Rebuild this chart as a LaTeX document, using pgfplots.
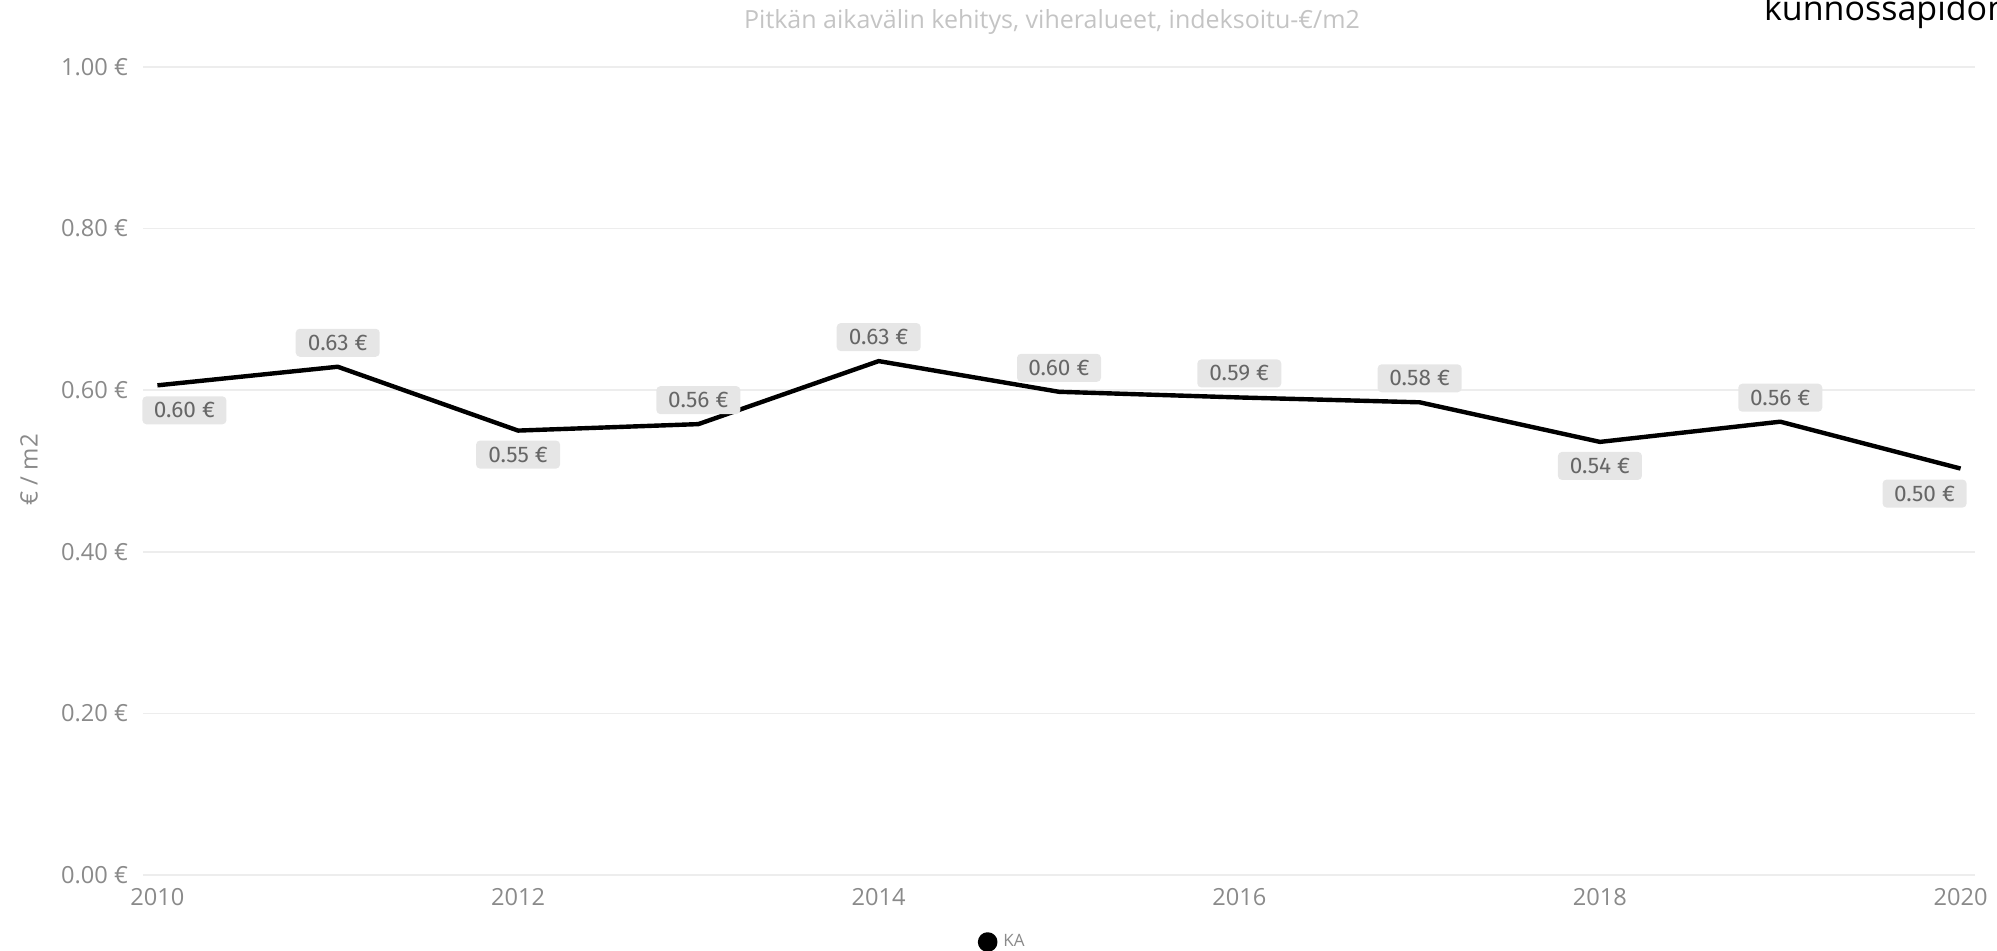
\documentclass[border=0pt]{standalone}
\usepackage{pgfplots}
\usepackage{pgfplotstable}
\pgfplotsset{compat=1.18}
\usepackage{fontspec}
\setmainfont{Open Sans}
\newfontfamily\labfont{Fira Sans}

\definecolor{tickgray}{HTML}{8A8A8A}
\definecolor{titlegray}{HTML}{C4C4C4}
\definecolor{gridgray}{HTML}{EDEDED}
\definecolor{boxgray}{HTML}{E6E6E6}
\definecolor{labgray}{HTML}{666666}

% yearly average, label text, label offsets (pt)
\pgfplotstableread[col sep=comma]{
year,val,lab,dx,dy
2010,0.606,0.60 €,13.5,-12.5
2011,0.629,0.63 €,0,12
2012,0.550,0.55 €,0,-12
2013,0.558,0.56 €,0,12
2014,0.636,0.63 €,0,12
2015,0.598,0.60 €,0,12
2016,0.591,0.59 €,0,12
2017,0.585,0.58 €,0,12
2018,0.536,0.54 €,0,-12
2019,0.561,0.56 €,0,12
2020,0.503,0.50 €,-18,-12.5
}\kadata

\begin{document}
\begin{tikzpicture}
\useasboundingbox (0,0) rectangle (998.5pt,475.5pt);

\begin{axis}[
  at={(71.5pt,38pt)}, anchor=south west,
  scale only axis,
  width=916pt, height=404pt,
  xmin=2009.92, xmax=2020.08,
  ymin=0, ymax=1,
  axis line style={draw=none},
  tick style={draw=none},
  ymajorgrids, grid style={gridgray, line width=0.8pt},
  xtick={2010,2012,...,2020},
  xticklabels={2010,2012,2014,2016,2018,2020},
  ytick={0,0.2,0.4,0.6,0.8,1},
  yticklabels={0.00 €,0.20 €,0.40 €,0.60 €,0.80 €,1.00 €},
  ticklabel style={font=\fontsize{11.8}{13}\selectfont, text=tickgray},
  yticklabel style={xshift=-4pt},
  xticklabel style={yshift=-3pt},
  clip=false,
  legend style={at={(0.4555,-0.083)}, anchor=west, draw=none, fill=none,
    inner sep=0pt, font=\fontsize{8.5}{10}\selectfont, text=tickgray,
    /tikz/every even column/.append style={column sep=0pt}},
  legend image code/.code={\fill[black] (0.05cm,0) circle (3.8pt);},
  legend cell align=left,
]
\addplot[black, line width=2.2pt, line join=round,
  nodes near coords,
  point meta=explicit symbolic,
  visualization depends on={\thisrow{dx} \as \dx},
  visualization depends on={\thisrow{dy} \as \dy},
  nodes near coords style={anchor=center, xshift=\dx pt, yshift=\dy pt,
    fill=boxgray, rounded corners=2pt, minimum width=42pt, minimum height=14pt,
    inner sep=0pt, text=labgray, font=\labfont\fontsize{11.3}{12}\selectfont},
] table[x=year, y=val, meta=lab] {\kadata};
\addlegendentry{\hspace{1pt}KA}
\end{axis}

\node[font=\fontsize{12.5}{15}\selectfont, text=titlegray] at (526pt,464.5pt)
  {Pitkän aikavälin kehitys, viheralueet, indeksoitu-€/m2};
\node[overlay, anchor=base west, font=\fontsize{17}{20}\selectfont, text=black]
  at (878.5pt,465pt) {kunnossapidon};
\node[rotate=90, font=\fontsize{12}{14}\selectfont, text=tickgray] at (14.5pt,240.5pt) {€ / m2};
\end{tikzpicture}
\end{document}
